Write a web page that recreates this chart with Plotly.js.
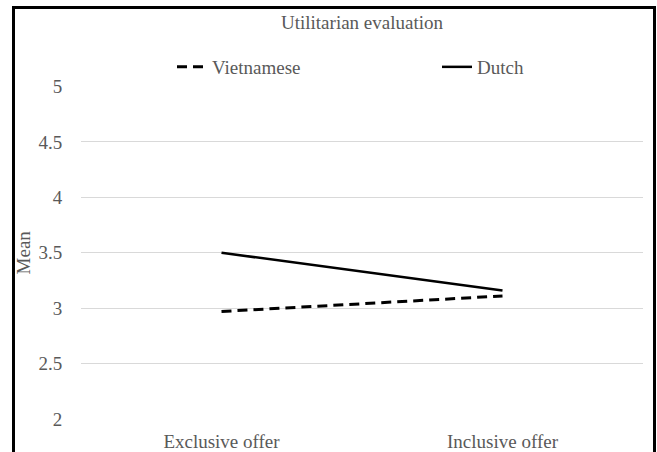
<!DOCTYPE html>
<html>
<head>
<meta charset="utf-8">
<script src="https://cdn.plot.ly/plotly-3.0.1.min.js"></script>
<style>
  html, body { margin: 0; padding: 0; background: #fff; }
  #wrap { position: relative; width: 657px; height: 452px; overflow: hidden; }
  #chart { width: 657px; height: 452px; }
  #frame { position: absolute; left: 12px; top: 6px; width: 638px; height: 470px;
           border: 3px solid #000; pointer-events: none; }
</style>
</head>
<body>
<div id="wrap">
  <div id="chart"></div>
  <div id="frame"></div>
</div>
<script>
const categories = ["Exclusive offer", "Inclusive offer"];
const vietnamese = [2.97, 3.11];
const dutch = [3.50, 3.16];
const yTicks = [2, 2.5, 3, 3.5, 4, 4.5, 5];
const yTickText = ["2", "2.5", "3", "3.5", "4", "4.5", "5"];

const FONT = "Liberation Serif, serif";
const GREY = "#595959";

const traces = [
  { x: categories, y: vietnamese, name: "Vietnamese", type: "scatter", mode: "lines",
    line: { color: "#000", width: 3, dash: "10px,6px" } },
  { x: categories, y: dutch, name: "Dutch", type: "scatter", mode: "lines",
    line: { color: "#000", width: 2.5 } }
];

const layout = {
  width: 657, height: 452,
  margin: { l: 81, r: 14, t: 84.5, b: 33 },
  paper_bgcolor: "#fff", plot_bgcolor: "#fff",
  font: { family: FONT, size: 19, color: GREY },
  title: { text: "Utilitarian evaluation", font: { family: FONT, size: 19, color: GREY },
           x: 0.5, xref: "paper", y: 1 - 22 / 452, yanchor: "middle" },
  showlegend: true,
  legend: { orientation: "h", xref: "container", yref: "container",
            x: 172 / 657, xanchor: "left", y: 1 - 67 / 452, yanchor: "middle",
            entrywidth: 220, entrywidthmode: "pixels",
            font: { family: FONT, size: 19, color: GREY }, bgcolor: "rgba(0,0,0,0)" },
  xaxis: { type: "category", range: [-0.5, 1.5], showgrid: false, zeroline: false, showline: false,
           ticks: "outside", ticklen: 5, tickcolor: "rgba(0,0,0,0)",
           tickfont: { family: FONT, size: 19, color: GREY }, fixedrange: true },
  yaxis: { range: [2, 5], tickvals: yTicks, ticktext: yTickText,
           showgrid: true, gridcolor: "#d9d9d9", gridwidth: 1, zeroline: false, showline: false,
           ticks: "outside", ticklen: 14, tickcolor: "rgba(0,0,0,0)",
           tickfont: { family: FONT, size: 19, color: GREY },
           title: { text: "Mean", font: { family: FONT, size: 19, color: GREY }, standoff: 2 },
           fixedrange: true }
};

Plotly.newPlot("chart", traces, layout, { displayModeBar: false, staticPlot: true });
</script>
</body>
</html>
